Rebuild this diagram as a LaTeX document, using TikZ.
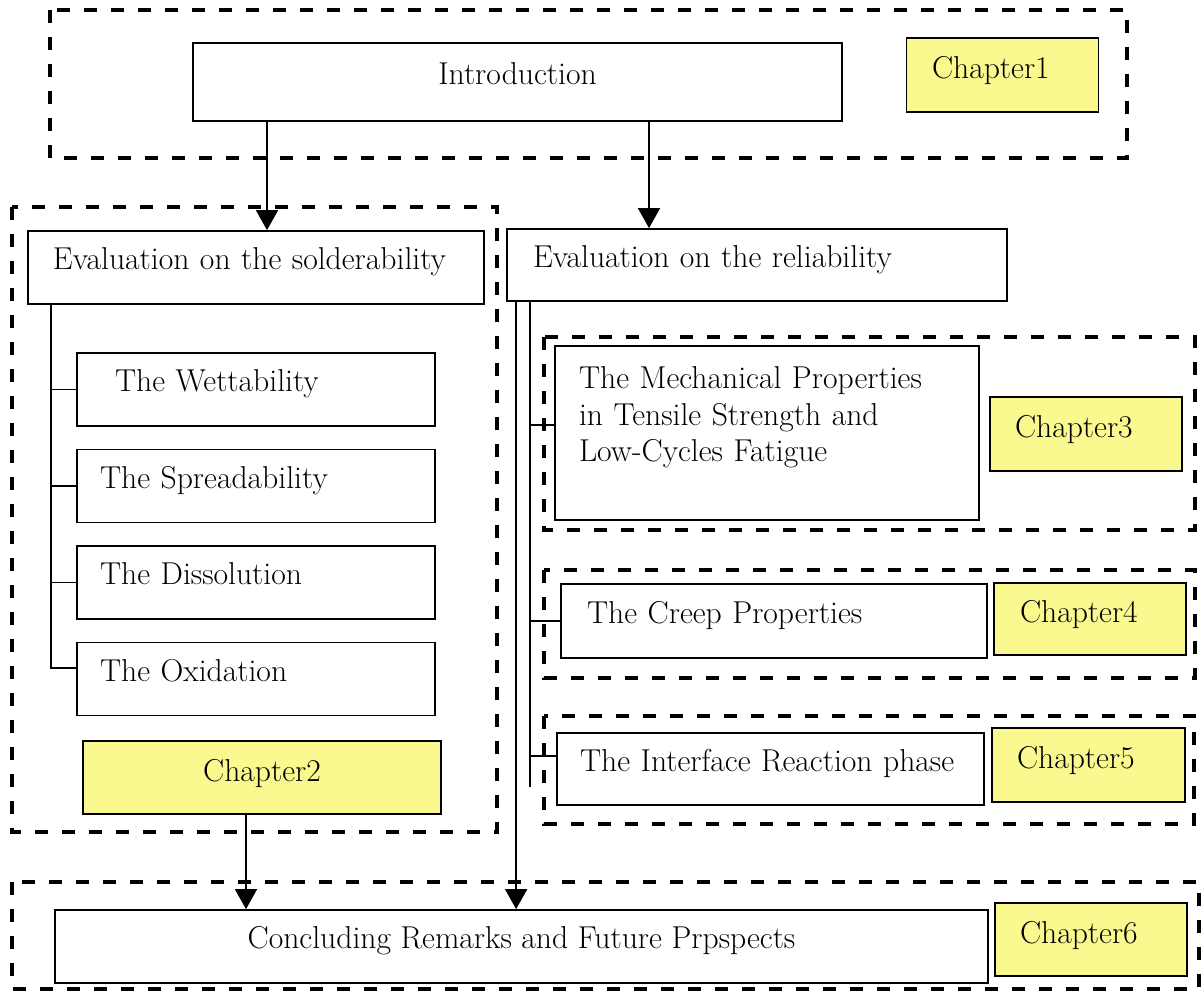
\documentclass[tikz,border=0pt]{standalone}
\usepackage{tikz}
\usetikzlibrary{arrows.meta,positioning}
\definecolor{chapyellow}{HTML}{FAF98F}

\tikzset{
  box/.style={draw,line width=1pt,minimum height=1.46cm,inner ysep=0pt,text depth=0.35cm},
  lbox/.style 2 args={box,text width=#1,inner xsep=#2,align=left},
  chap/.style={draw,line width=1pt,fill=chapyellow,minimum height=1.46cm,minimum width=3.84cm,inner ysep=0pt,text depth=0.3cm},
  lchap/.style={chap,text width=#1,inner xsep=0.5cm,align=left},
  frame/.style={line width=2pt,dash pattern=on 0.26cm off 0.28cm},
  arr/.style={-{Triangle[length=0.4cm,width=0.44cm]},line width=0.9pt},
  link/.style={line width=0.9pt}
}

\begin{document}
\begin{tikzpicture}[every node/.style={font=\fontsize{18}{20.5}\selectfont}]
\useasboundingbox (0,0) rectangle (24.02,-19.88);

% chapter 1
\node[box,minimum width=12.98cm,minimum height=1.56cm] (intro) at (10.35,-1.64) {Introduction};
\node[lchap=2.82cm,minimum height=1.48cm] (ch1) at (20.05,-1.5) {Chapter1};
\draw[frame] (1.0,-0.2) rectangle (22.54,-3.16);

% chapter 2
\node[lbox={8.12cm}{0.5cm}] (solder) at (5.12,-5.35) {Evaluation on the solderability};
\node[lbox={5.64cm}{0.76cm}] (wett) at (5.12,-7.79) {The Wettability};
\node[lbox={6.24cm}{0.46cm}] (spread) at (5.12,-9.72) {The Spreadability};
\node[lbox={6.24cm}{0.46cm}] (dissol) at (5.12,-11.65) {The Dissolution};
\node[lbox={6.24cm}{0.46cm}] (oxid) at (5.12,-13.58) {The Oxidation};
\node[chap,minimum width=7.16cm] (ch2) at (5.24,-15.55) {Chapter2};
\draw[frame] (0.24,-4.14) rectangle (9.94,-16.64);

% chapters 3-5
\node[lbox={8.96cm}{0.52cm},minimum height=1.44cm] (reliab) at (15.14,-5.3) {Evaluation on the reliability};
\node[lbox={7.52cm}{0.48cm},minimum height=3.48cm,text depth=2.2cm] (mech) at (15.34,-8.66) {The Mechanical Properties\\in Tensile Strength and\\Low-Cycles Fatigue};
\node[lchap=2.84cm,minimum height=1.48cm] (ch3) at (21.72,-8.68) {Chapter3};
\draw[frame] (10.88,-6.74) rectangle (23.9,-10.6);
\node[lbox={7.48cm}{0.52cm},minimum height=1.48cm] (creep) at (15.48,-12.42) {The Creep Properties};
\node[lchap=2.8cm,minimum height=1.44cm] (ch4) at (21.8,-12.38) {Chapter4};
\draw[frame] (10.88,-11.4) rectangle (23.9,-13.56);
\node[lbox={7.62cm}{0.46cm},minimum height=1.44cm] (inter) at (15.41,-15.38) {The Interface Reaction phase};
\node[lchap=2.86cm,minimum height=1.48cm] (ch5) at (21.77,-15.3) {Chapter5};
\draw[frame] (10.88,-14.32) rectangle (23.88,-16.48);

% chapter 6
\node[box,minimum width=18.66cm] (concl) at (10.43,-18.93) {Concluding Remarks and Future Prpspects};
\node[lchap=2.84cm] (ch6) at (21.82,-18.79) {Chapter6};
\draw[frame] (0.24,-17.64) rectangle (23.98,-19.78);

% arrows from the introduction
\coordinate (introL) at ([xshift=-5.01cm]intro.south);
\coordinate (introR) at ([xshift=2.63cm]intro.south);
\draw[arr] (introL) -- (introL |- solder.north);
\draw[arr] (introR) -- (introR |- reliab.north);

% solderability tree
\coordinate (solderT) at ([xshift=0.48cm]solder.south west);
\coordinate (oxidB) at ([yshift=0.22cm]oxid.west);
\draw[link] (solderT) -- (solderT |- oxidB) -- (oxidB);
\foreach \b in {wett,spread,dissol}
  \draw[link] (solderT |- \b.west) -- (\b.west);

% reliability tree
\coordinate (relA) at ([xshift=0.2cm]reliab.south west);
\coordinate (relB) at ([xshift=0.48cm]reliab.south west);
\coordinate (mechB) at ([yshift=0.16cm]mech.west);
\coordinate (interB) at ([yshift=0.26cm]inter.west);
\draw[link] (relB) -- (relB |- 0,-15.74);
\draw[link] (relB |- mechB) -- (mechB);
\draw[link] (relB |- creep.west) -- (creep.west);
\draw[link] (relB |- interB) -- (interB);

% arrows to the conclusion
\draw[arr] (relA) -- (relA |- concl.north);
\coordinate (ch2B) at ([xshift=-0.32cm]ch2.south);
\draw[arr] (ch2B) -- (ch2B |- concl.north);
\end{tikzpicture}
\end{document}
